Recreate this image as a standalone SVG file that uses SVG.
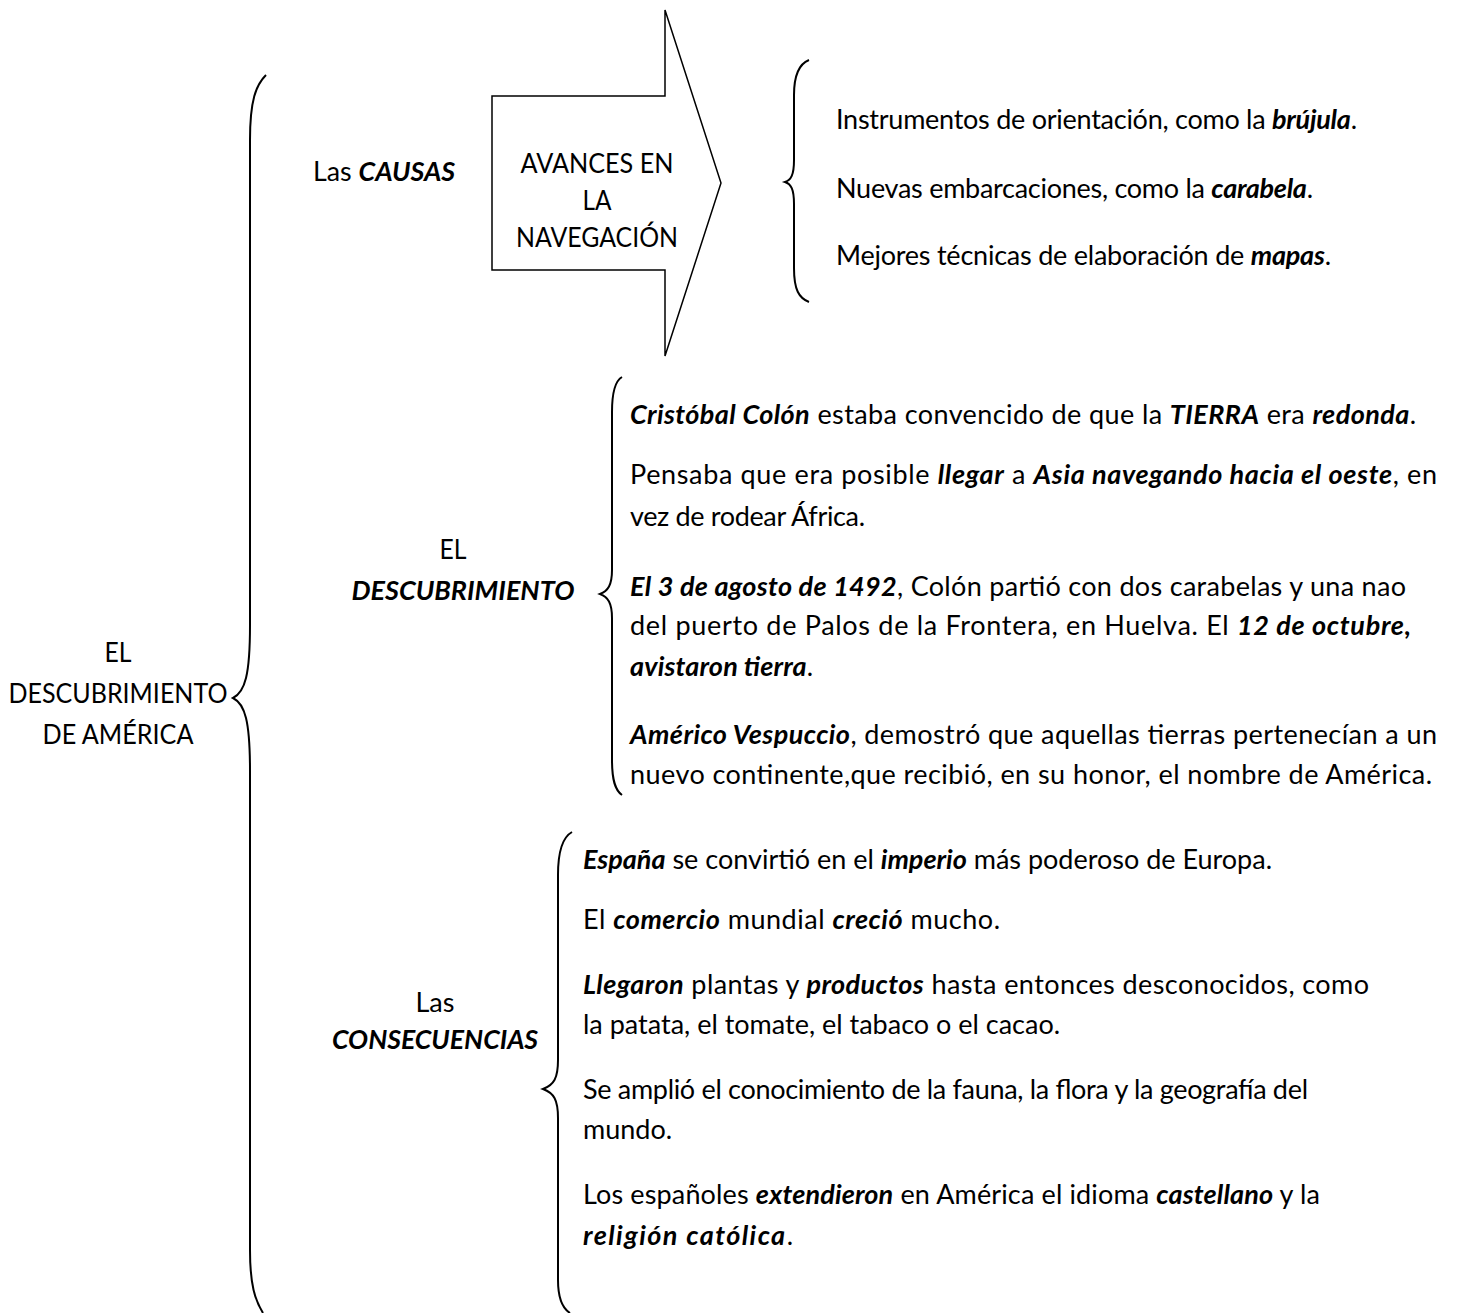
<svg xmlns="http://www.w3.org/2000/svg" width="1460" height="1313" viewBox="0 0 1460 1313">
<style>
text{font-family:Lato,"Liberation Sans",sans-serif;font-size:27px;fill:#000}
.c{text-anchor:middle}
.bi{font-weight:bold;font-style:italic}
.br{fill:none;stroke:#000;stroke-width:2}
.ar{fill:#fff;stroke:#000;stroke-width:1.5}
</style>
<rect width="1460" height="1313" fill="#fff"/>
<g id="connectors">
<path class="br" d="M266 75 C256 85 250 100 250 140 L250 625 C250 675 245 692 233 698 C245 704 250 721 250 771 L250 1250 C250 1285 255 1300 263 1313"/>
<path class="br" d="M809 60 C799 64 794 75 794 95 L794 160 C794 175 791 180 785 182 C791 184 794 189 794 204 L794 268 C794 290 799 298 809 302"/>
<path class="br" d="M622 377 C615 381 612 392 612 412 L612 570 C612 585 608 591 600 594 C608 597 612 603 612 618 L612 760 C612 780 615 790 622 795"/>
<path class="br" d="M572 832 C563 837 558 850 558 875 L558 1060 C558 1078 554 1085 543 1089 C554 1093 558 1100 558 1118 L558 1280 C558 1298 562 1308 570 1313"/>
</g>
<g id="node-main">
<text class="c" x="118" y="662" textLength="27" lengthAdjust="spacingAndGlyphs">EL</text>
<text class="c" x="118" y="703" textLength="219" lengthAdjust="spacingAndGlyphs">DESCUBRIMIENTO</text>
<text class="c" x="118" y="744" textLength="151" lengthAdjust="spacingAndGlyphs">DE AMÉRICA</text>
</g>
<g id="node-causas">
<text x="313" y="181" textLength="142" lengthAdjust="spacingAndGlyphs">Las <tspan class="bi">CAUSAS</tspan></text>
</g>
<g id="node-avances">
<path class="ar" d="M492 96 L665 96 L665 10 L721 183 L665 356 L665 270 L492 270 Z"/>
<text class="c" x="597" y="173" textLength="153" lengthAdjust="spacingAndGlyphs">AVANCES EN</text>
<text class="c" x="597" y="210" textLength="29" lengthAdjust="spacingAndGlyphs">LA</text>
<text class="c" x="597" y="247" textLength="162" lengthAdjust="spacingAndGlyphs">NAVEGACIÓN</text>
</g>
<g id="node-causas-list">
<text x="836" y="129" textLength="521">Instrumentos de orientación, como la <tspan class="bi">brújula</tspan>.</text>
<text x="836" y="198" textLength="477">Nuevas embarcaciones, como la <tspan class="bi">carabela</tspan>.</text>
<text x="836" y="265" textLength="495">Mejores técnicas de elaboración de <tspan class="bi">mapas</tspan>.</text>
</g>
<g id="node-descubrimiento">
<text class="c" x="453" y="559" textLength="27" lengthAdjust="spacingAndGlyphs">EL</text>
<text class="c bi" x="463" y="600" textLength="223" lengthAdjust="spacingAndGlyphs">DESCUBRIMIENTO</text>
</g>
<g id="node-descubrimiento-list">
<text x="630" y="424" textLength="786"><tspan class="bi">Cristóbal Colón</tspan> estaba convencido de que la <tspan class="bi">TIERRA</tspan> era <tspan class="bi">redonda</tspan>.</text>
<text x="630" y="484" textLength="807">Pensaba que era posible <tspan class="bi">llegar</tspan> a <tspan class="bi">Asia navegando hacia el oeste</tspan>, en</text>
<text x="630" y="526" textLength="235">vez de rodear África.</text>
<text x="630" y="596" textLength="776"><tspan class="bi">El 3 de agosto de 1492</tspan>, Colón partió con dos carabelas y una nao</text>
<text x="630" y="635" textLength="781">del puerto de Palos de la Frontera, en Huelva. El <tspan class="bi">12 de octubre,</tspan></text>
<text x="630" y="676" textLength="183"><tspan class="bi">avistaron tierra</tspan>.</text>
<text x="630" y="744" textLength="807"><tspan class="bi">Américo Vespuccio</tspan>, demostró que aquellas tierras pertenecían a un</text>
<text x="630" y="784" textLength="802">nuevo continente,que recibió, en su honor, el nombre de América.</text>
</g>
<g id="node-consecuencias">
<text class="c" x="435" y="1012">Las</text>
<text class="c bi" x="435" y="1049" textLength="206" lengthAdjust="spacingAndGlyphs">CONSECUENCIAS</text>
</g>
<g id="node-consecuencias-list">
<text x="583" y="869" textLength="689"><tspan class="bi">España</tspan> se convirtió en el <tspan class="bi">imperio</tspan> más poderoso de Europa.</text>
<text x="583" y="929" textLength="417">El <tspan class="bi">comercio</tspan> mundial <tspan class="bi">creció</tspan> mucho.</text>
<text x="583" y="994" textLength="786"><tspan class="bi">Llegaron</tspan> plantas y <tspan class="bi">productos</tspan> hasta entonces desconocidos, como</text>
<text x="583" y="1034">la patata, el tomate, el tabaco o el cacao.</text>
<text x="583" y="1099" textLength="725">Se amplió el conocimiento de la fauna, la flora y la geografía del</text>
<text x="583" y="1139">mundo.</text>
<text x="583" y="1204" textLength="737">Los españoles <tspan class="bi">extendieron</tspan> en América el idioma <tspan class="bi">castellano</tspan> y la</text>
<text x="583" y="1245" textLength="210"><tspan class="bi">religión católica</tspan>.</text>
</g>
</svg>
